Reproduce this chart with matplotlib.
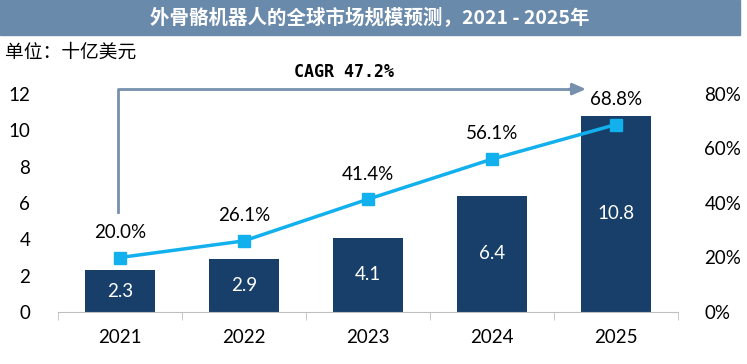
import numpy as np
import matplotlib.pyplot as plt
from matplotlib.patches import Rectangle

years = ['2021', '2022', '2023', '2024', '2025']
market = [2.3, 2.9, 4.1, 6.4, 10.8]
growth = [20.0, 26.1, 41.4, 56.1, 68.8]
cagr_text = 'CAGR 47.2%'

bar_color = '#173f6a'
line_color = '#13b0ee'
arrow_color = '#7690ad'

plt.rcParams['font.family'] = ['Lato', 'Noto Sans CJK SC', 'DejaVu Sans']

fig = plt.figure(figsize=(7.47, 3.64), dpi=100)
ax = fig.add_axes([58 / 747, 1 - 312 / 364, 620 / 747, 218 / 364])

x = np.arange(len(years))
bars = ax.bar(x, market, width=0.57, color=bar_color, zorder=2)
for xi, v in zip(x, market):
    ax.text(xi, v / 2, f'{v:.1f}', ha='center', va='center', color='white', fontsize=13.5, zorder=3)

ax.set_xlim(-0.5, len(years) - 0.5)
ax.set_ylim(0, 12)
ax.set_yticks(range(0, 13, 2))
ax.set_xticks(x)
ax.set_xticklabels(years)
ax.set_xticks(np.arange(-0.5, len(years), 1), minor=True)
ax.tick_params(axis='x', which='major', length=0, labelsize=13.5, pad=12)
ax.tick_params(axis='x', which='minor', length=6, color='#bfbfbf')
ax.tick_params(axis='y', length=0, labelsize=13.5, pad=20)
for s in ['top', 'right', 'left']:
    ax.spines[s].set_visible(False)
ax.spines['bottom'].set_color('#bfbfbf')

ax2 = ax.twinx()
ax2.set_ylim(0, 80)
ax2.set_yticks(range(0, 81, 20))
ax2.set_yticklabels([f'{t}%' for t in range(0, 81, 20)])
ax2.tick_params(axis='y', length=0, labelsize=13.5, pad=19)
for s in ax2.spines.values():
    s.set_visible(False)
ax2.plot(x, growth, color=line_color, lw=2.5, marker='s', ms=9, zorder=4)
for xi, g in zip(x, growth):
    ax2.annotate(f'{g:.1f}%', (xi, g), xytext=(0, 12), textcoords='offset points',
                 ha='center', va='bottom', fontsize=13.5)

# CAGR elbow arrow
ax.plot([-0.02, -0.02, 3.7], [5.5, 12.27, 12.27], color=arrow_color, lw=2, clip_on=False, zorder=5)
ax.annotate('', xy=(3.78, 12.27), xytext=(3.6, 12.27),
            arrowprops=dict(arrowstyle='-|>,head_length=0.8,head_width=0.35', color=arrow_color, lw=2),
            annotation_clip=False)
ax.text(1.81, 13.2, cagr_text, ha='center', va='center', fontsize=12, fontweight='bold',
        family='DejaVu Sans Mono', clip_on=False)

# title banner
fig.patches.append(Rectangle((0, 1 - 35 / 364), 740 / 747, 35 / 364, transform=fig.transFigure,
                             color='#6a8aab', zorder=0))
fig.text(370 / 747, 1 - 18 / 364, '外骨骼机器人的全球市场规模预测，2021 - 2025年', ha='center', va='center',
         color='white', fontsize=14, fontweight='bold', family=['Noto Sans CJK SC', 'DejaVu Sans'])
fig.text(5 / 747, 1 - 52 / 364, '单位：十亿美元', ha='left', va='center', fontsize=13.5,
         family=['Noto Sans CJK SC', 'DejaVu Sans'])

fig.savefig('out.png', dpi=100)
